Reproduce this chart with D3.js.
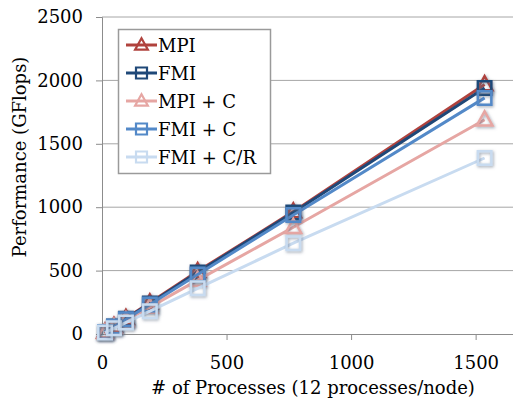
<!DOCTYPE html>
<html>
<head>
<meta charset="utf-8">
<script src="https://cdn.jsdelivr.net/npm/d3@7"></script>
<style>
  body { margin: 0; background: #fff; }
  text { font-family: "DejaVu Serif", serif; fill: #000; }
</style>
</head>
<body>
<svg width="513" height="403"></svg>
<script>
// data
const processes = [12, 48, 96, 192, 384, 768, 1536];
const mpi      = [16, 62, 124, 246, 494, 965, 1968];
const fmi      = [15, 60, 121, 241, 486, 958, 1940];
const mpiC     = [13, 53, 106, 212, 425, 842, 1690];
const fmiC     = [15, 59, 117, 233, 470, 938, 1862];
const fmiCR    = [11, 45, 90, 180, 360, 716, 1388];
const seriesNames = ['MPI', 'FMI', 'MPI + C', 'FMI + C', 'FMI + C/R'];
const xTicks = [0, 500, 1000, 1500];
const yTicks = [0, 500, 1000, 1500, 2000, 2500];

const series = [
  {name: seriesNames[0], values: mpi,   color: '#b0423d', shape: 'tri'},
  {name: seriesNames[1], values: fmi,   color: '#1f4878', shape: 'sq'},
  {name: seriesNames[2], values: mpiC,  color: '#e6a6a3', shape: 'tri'},
  {name: seriesNames[3], values: fmiC,  color: '#5389c8', shape: 'sq'},
  {name: seriesNames[4], values: fmiCR, color: '#c8dbf0', shape: 'sq'}
];

const svg = d3.select('svg');

// soft shadow behind the markers
const defs = svg.append('defs');
defs.append('filter').attr('id', 'shadow')
  .attr('x', '-50%').attr('y', '-50%').attr('width', '200%').attr('height', '200%')
  .append('feDropShadow')
  .attr('dx', 1).attr('dy', 1.2).attr('stdDeviation', 1.6)
  .attr('flood-color', '#5a6a80').attr('flood-opacity', 0.6);

const x = d3.scaleLinear().domain([0, 1650]).range([102, 513]);
const y = d3.scaleLinear().domain([0, 2500]).range([334, 17]);

// gridlines
svg.append('g')
  .selectAll('line')
  .data(yTicks.filter(d => d > 0))
  .join('line')
  .attr('x1', x(0)).attr('x2', 513)
  .attr('y1', d => y(d)).attr('y2', d => y(d))
  .attr('stroke', '#a6a6a6').attr('stroke-width', 1);

// axes
const yAxis = svg.append('g')
  .attr('transform', `translate(${x(0)},0)`)
  .call(d3.axisLeft(y).tickValues(yTicks).tickSize(6).tickPadding(13).tickFormat(d3.format('d')));
const xAxis = svg.append('g')
  .attr('transform', `translate(0,${y(0)})`)
  .call(d3.axisBottom(x).tickValues(xTicks).tickSize(6).tickPadding(16).tickFormat(d3.format('d')));
[xAxis, yAxis].forEach(a => {
  a.select('.domain').attr('stroke', '#8c8c8c');
  a.selectAll('.tick line').attr('stroke', '#8c8c8c');
  a.selectAll('.tick text').style('font-size', '18px').style('font-family', '"DejaVu Serif", serif');
});
xAxis.select('.domain').attr('d', `M${x(0)},0.5H513`);
xAxis.selectAll('.tick').filter(d => d === 0).select('line').remove();

// axis titles
svg.append('text')
  .attr('x', 313).attr('y', 394)
  .attr('text-anchor', 'middle')
  .style('font-size', '18px')
  .text('# of Processes (12 processes/node)');
svg.append('text')
  .attr('transform', 'translate(26,157) rotate(-90)')
  .attr('text-anchor', 'middle')
  .style('font-size', '18px')
  .text('Performance (GFlops)');

const triPath = s => `M0,${-s * 0.62}L${s * 0.58},${s * 0.42}L${-s * 0.58},${s * 0.42}Z`;
const sqPath = s => `M${-s / 2},${-s / 2}h${s}v${s}h${-s}Z`;
const markerPath = (shape, s) => shape === 'tri' ? triPath(s) : sqPath(s);

const line = d3.line().x(d => x(d[0])).y(d => y(d[1]));

series.forEach(s => {
  const pts = processes.map((p, i) => [p, s.values[i]]);
  const g = svg.append('g');
  g.append('path')
    .attr('d', line(pts))
    .attr('fill', 'none')
    .attr('stroke', s.color)
    .attr('stroke-width', 3);
  g.selectAll('path.m')
    .data(pts)
    .join('path')
    .attr('class', 'm')
    .attr('transform', d => `translate(${x(d[0])},${y(d[1])})`)
    .attr('d', markerPath(s.shape, 13.5))
    .attr('fill', 'none')
    .attr('stroke', s.color)
    .attr('stroke-width', 2.5)
    .attr('filter', 'url(#shadow)');
});

// legend
const legend = svg.append('g');
legend.append('rect')
  .attr('x', 118.5).attr('y', 29.5).attr('width', 152).attr('height', 144)
  .attr('fill', '#fff').attr('stroke', '#9a9a9a').attr('stroke-width', 1.5);
const rows = legend.selectAll('g')
  .data(series)
  .join('g')
  .attr('transform', (d, i) => `translate(0,${45 + i * 28})`);
rows.append('line')
  .attr('x1', 126).attr('x2', 157)
  .attr('stroke', d => d.color).attr('stroke-width', 3);
rows.append('path')
  .attr('transform', 'translate(141.5,0)')
  .attr('d', d => markerPath(d.shape, 11))
  .attr('fill', 'none')
  .attr('stroke', d => d.color).attr('stroke-width', 2.2);
rows.append('text')
  .attr('x', 158).attr('y', 6.5)
  .style('font-size', '18px')
  .text(d => d.name);
</script>
</body>
</html>
